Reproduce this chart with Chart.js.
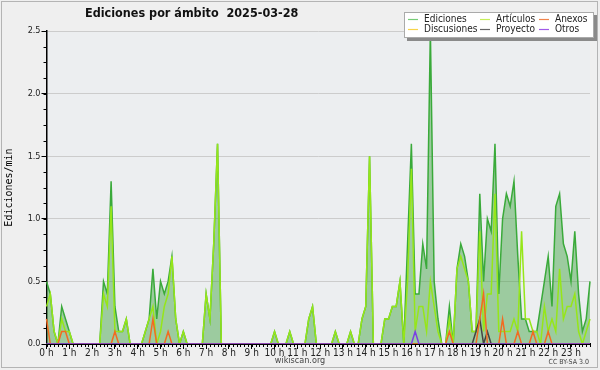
<!DOCTYPE html>
<html>
<head>
<meta charset="utf-8">
<script src="https://cdn.jsdelivr.net/npm/chart.js@4.4.1/dist/chart.umd.min.js"></script>
<style>
  html, body { margin: 0; padding: 0; background: #efefef; }
  canvas { display: block; }
</style>
</head>
<body>
<canvas id="chart" width="600" height="370"></canvas>
<script>
// edits per minute, one value per 10 minutes (6 per row = one hour, 0 h .. 23 h)
const ediciones = [
  0.5, 0.4, 0.1, 0, 0.3, 0.2,
  0.1, 0, 0, 0, 0, 0,
  0, 0, 0, 0.5, 0.4, 1.3,
  0.3, 0.1, 0.1, 0.2, 0, 0,
  0, 0, 0.1, 0.2, 0.6, 0.2,
  0.5, 0.4, 0.5, 0.7, 0.2, 0,
  0.1, 0, 0, 0, 0, 0,
  0.4, 0.2, 0.8, 1.6, 0, 0,
  0, 0, 0, 0, 0, 0,
  0, 0, 0, 0, 0, 0,
  0.1, 0, 0, 0, 0.1, 0,
  0, 0, 0, 0.2, 0.3, 0,
  0, 0, 0, 0, 0.1, 0,
  0, 0, 0.1, 0, 0, 0.2,
  0.3, 1.5, 0, 0, 0, 0.2,
  0.2, 0.3, 0.3, 0.5, 0, 0.8,
  1.6, 0.4, 0.4, 0.8, 0.6, 2.5,
  0.5, 0.2, 0, 0, 0.3, 0,
  0.6, 0.8, 0.7, 0.5, 0.1, 0.1,
  1.2, 0.5, 1.0, 0.9, 1.6, 0.4,
  1.0, 1.2, 1.1, 1.3, 0.7, 0.2,
  0.2, 0.1, 0.1, 0.1, 0.3, 0.5,
  0.7, 0.3, 1.1, 1.2, 0.8, 0.7,
  0.5, 0.9, 0.4, 0.1, 0.2, 0.5
];
const articulos = [
  0.3, 0.4, 0.1, 0, 0.2, 0.1,
  0.1, 0, 0, 0, 0, 0,
  0, 0, 0, 0.4, 0.3, 1.1,
  0.1, 0.1, 0.1, 0.2, 0, 0,
  0, 0, 0.1, 0.2, 0.3, 0,
  0.1, 0.3, 0.4, 0.7, 0.2, 0,
  0.1, 0, 0, 0, 0, 0,
  0.4, 0.2, 0.8, 1.6, 0, 0,
  0, 0, 0, 0, 0, 0,
  0, 0, 0, 0, 0, 0,
  0.1, 0, 0, 0, 0.1, 0,
  0, 0, 0, 0.2, 0.3, 0,
  0, 0, 0, 0, 0.1, 0,
  0, 0, 0.1, 0, 0, 0.2,
  0.3, 1.5, 0, 0, 0, 0.2,
  0.2, 0.3, 0.3, 0.5, 0, 0.5,
  1.4, 0.1, 0.3, 0.3, 0.1, 0.5,
  0.3, 0.1, 0, 0, 0.2, 0,
  0.6, 0.7, 0.6, 0.5, 0.1, 0.1,
  0.9, 0.1, 0.4, 0.4, 1.2, 0.1,
  0.1, 0.1, 0.1, 0.2, 0.1, 0.9,
  0.2, 0.2, 0.1, 0.1, 0, 0.3,
  0.1, 0.2, 0.1, 0.6, 0.2, 0.3,
  0.3, 0.4, 0.1, 0, 0.1, 0.2
];
const anexos = [
  0.2, 0, 0, 0, 0.1, 0.1,
  0, 0, 0, 0, 0, 0,
  0, 0, 0, 0, 0, 0,
  0.1, 0, 0, 0, 0, 0,
  0, 0, 0, 0, 0.2, 0,
  0, 0, 0.1, 0, 0, 0,
  0, 0, 0, 0, 0, 0,
  0, 0, 0, 0, 0, 0,
  0, 0, 0, 0, 0, 0,
  0, 0, 0, 0, 0, 0,
  0, 0, 0, 0, 0, 0,
  0, 0, 0, 0, 0, 0,
  0, 0, 0, 0, 0, 0,
  0, 0, 0, 0, 0, 0,
  0, 0, 0, 0, 0, 0,
  0, 0, 0, 0, 0, 0,
  0, 0, 0, 0, 0, 0,
  0, 0, 0, 0, 0.1, 0,
  0, 0, 0, 0, 0, 0,
  0.2, 0.4, 0, 0, 0, 0,
  0.2, 0, 0, 0, 0.1, 0,
  0, 0, 0.1, 0, 0, 0,
  0.1, 0, 0, 0, 0, 0,
  0, 0, 0, 0, 0, 0
];
const discusiones = new Array(144).fill(0);
const proyecto = [
  0, 0, 0, 0, 0, 0,  0, 0, 0, 0, 0, 0,  0, 0, 0, 0, 0, 0,  0, 0, 0, 0, 0, 0,
  0, 0, 0, 0, 0, 0,  0, 0, 0, 0, 0, 0,  0, 0, 0, 0, 0, 0,  0, 0, 0, 0, 0, 0,
  0, 0, 0, 0, 0, 0,  0, 0, 0, 0, 0, 0,  0, 0, 0, 0, 0, 0,  0, 0, 0, 0, 0, 0,
  0, 0, 0, 0, 0, 0,  0, 0, 0, 0, 0, 0,  0, 0, 0, 0, 0, 0,  0, 0, 0, 0, 0, 0,
  0, 0, 0, 0, 0, 0,  0, 0, 0, 0, 0, 0,  0, 0, 0, 0, 0, 0.1,
  0.2, 0, 0.1, 0, 0, 0,
  0, 0, 0, 0, 0, 0,  0, 0, 0, 0, 0, 0,  0, 0, 0, 0, 0, 0,  0, 0, 0, 0, 0, 0
];
const otros = [
  0, 0, 0, 0, 0, 0,  0, 0, 0, 0, 0, 0,  0, 0, 0, 0, 0, 0,  0, 0, 0, 0, 0, 0,
  0, 0, 0, 0, 0, 0,  0, 0, 0, 0, 0, 0,  0, 0, 0, 0, 0, 0,  0, 0, 0, 0, 0, 0,
  0, 0, 0, 0, 0, 0,  0, 0, 0, 0, 0, 0,  0, 0, 0, 0, 0, 0,  0, 0, 0, 0, 0, 0,
  0, 0, 0, 0, 0, 0,  0, 0, 0, 0, 0, 0,  0, 0, 0, 0, 0, 0,  0, 0, 0, 0, 0, 0,
  0, 0.1, 0, 0, 0, 0,
  0, 0, 0, 0, 0, 0,  0, 0, 0, 0, 0, 0,  0, 0, 0, 0, 0, 0,
  0, 0, 0, 0, 0, 0,  0, 0, 0, 0, 0, 0,  0, 0, 0, 0, 0, 0,  0, 0, 0, 0, 0, 0
];

const slotsPerHour = 6;
const hourTicks = [0, 1, 2, 3, 4, 5, 6, 7, 8, 9, 10, 11, 12, 13, 14, 15, 16, 17, 18, 19, 20, 21, 22, 23];
const yTicks = [0, 0.5, 1.0, 1.5, 2.0, 2.5];

const seriesNames = ['Ediciones', 'Artículos', 'Anexos', 'Discusiones', 'Proyecto', 'Otros'];
const seriesValues = [ediciones, articulos, anexos, discusiones, proyecto, otros];
const lineColors = ['#3aaa3a', '#96e619', '#f26a21', '#f5c400', '#444444', '#7b3fe4'];
const legendColors = ['#77cc77', '#c6ee5a', '#f0844c', '#f7d44a', '#666666', '#a05ae8'];
const drawOrder = [10, 5, 1, 4, 2, 0];

const FONT = "'DejaVu Sans Condensed', 'DejaVu Sans', sans-serif";

const datasets = seriesNames.map((name, k) => ({
  label: name,
  data: seriesValues[k].map((v, i) => ({ x: i, y: v })),
  borderColor: lineColors[k],
  backgroundColor: k === 0 ? 'rgba(60,160,60,0.45)' : lineColors[k],
  legendColor: legendColors[k],
  fill: k === 0 ? 'origin' : false,
  borderWidth: 1.5,
  pointRadius: 0,
  tension: 0,
  order: drawOrder[k],
  clip: { left: 2, top: 2, right: 2, bottom: 0 }
}));

const background = {
  id: 'background',
  beforeDraw(chart) {
    const { ctx, chartArea: a } = chart;
    ctx.save();
    ctx.fillStyle = '#efefef';
    ctx.fillRect(0, 0, chart.width, chart.height);
    ctx.fillStyle = '#eceef0';
    ctx.fillRect(a.left, a.top, a.right - a.left, a.bottom - a.top);
    ctx.restore();
  }
};

// small ticks: every 10 minutes on x, every 0.125 on y
const minorTicks = {
  id: 'minorTicks',
  afterDraw(chart) {
    const { ctx, chartArea: a, scales } = chart;
    ctx.save();
    ctx.strokeStyle = '#000';
    ctx.lineWidth = 1;
    ctx.beginPath();
    for (let i = 0; i < ediciones.length; i++) {
      const px = Math.round(scales.x.getPixelForValue(i)) + 0.5;
      ctx.moveTo(px, a.bottom);
      ctx.lineTo(px, a.bottom + 3);
    }
    for (let v = 0; v <= 2.5; v += 0.125) {
      const py = Math.round(scales.y.getPixelForValue(v)) + 0.5;
      ctx.moveTo(a.left - 3, py);
      ctx.lineTo(a.left, py);
    }
    ctx.stroke();
    ctx.restore();
  }
};

const decorations = {
  id: 'decorations',
  afterDraw(chart) {
    const { ctx } = chart;
    ctx.save();
    // title
    ctx.fillStyle = '#111';
    ctx.font = "bold 12.5px " + FONT;
    ctx.textAlign = 'left';
    ctx.textBaseline = 'middle';
    ctx.fillText('Ediciones por ámbito  2025-03-28', 85, 14);

    // legend box with shadow
    const bx = 404, by = 12, bw = 190, bh = 26;
    ctx.fillStyle = '#8a8a8a';
    ctx.fillRect(bx + 3, by + 3, bw, bh);
    ctx.fillStyle = '#fff';
    ctx.fillRect(bx, by, bw, bh);
    ctx.strokeStyle = '#aaa';
    ctx.lineWidth = 1;
    ctx.strokeRect(bx + 0.5, by + 0.5, bw - 1, bh - 1);
    const colX = [408, 480, 539];
    const rowY = [19.5, 29.5];
    ctx.font = "10px " + FONT;
    chart.data.datasets.forEach((ds, k) => {
      const x = colX[k % 3], y = rowY[Math.floor(k / 3)];
      ctx.strokeStyle = ds.legendColor;
      ctx.lineWidth = 1.2;
      ctx.beginPath();
      ctx.moveTo(x, y);
      ctx.lineTo(x + 10, y);
      ctx.stroke();
      ctx.fillStyle = '#222';
      ctx.fillText(ds.label, x + 16, y);
    });

    // footer
    ctx.fillStyle = '#444';
    ctx.textAlign = 'center';
    ctx.font = "9px " + FONT;
    ctx.fillText('wikiscan.org', 300, 361);
    ctx.textAlign = 'right';
    ctx.font = "7px " + FONT;
    ctx.fillText('CC BY-SA 3.0', 589, 362);

    // frame
    ctx.strokeStyle = '#b4b4b4';
    ctx.lineWidth = 1;
    ctx.strokeRect(1.5, 1.5, 596, 366);
    ctx.restore();
  }
};

new Chart(document.getElementById('chart'), {
  type: 'line',
  data: { datasets },
  options: {
    responsive: false,
    animation: false,
    devicePixelRatio: 1,
    layout: { padding: { top: 31, right: 10, left: 0, bottom: 0 } },
    plugins: {
      legend: { display: false },
      title: { display: false },
      tooltip: { enabled: false }
    },
    scales: {
      x: {
        type: 'linear',
        min: 0,
        max: ediciones.length - 1,
        z: 1,
        afterBuildTicks(scale) {
          scale.ticks = hourTicks.map(h => ({ value: h * slotsPerHour }));
        },
        afterFit(scale) { scale.height = 26; },
        ticks: {
          autoSkip: false,
          maxRotation: 0,
          padding: -2,
          color: '#222',
          font: { family: FONT, size: 10 },
          callback: v => (v / slotsPerHour) + ' h'
        },
        grid: { drawOnChartArea: false, tickLength: 5, tickColor: '#000', tickWidth: 1 },
        border: { color: '#000', width: 2 }
      },
      y: {
        min: 0,
        max: 2.5,
        afterBuildTicks(scale) {
          scale.ticks = yTicks.map(v => ({ value: v }));
        },
        afterFit(scale) { scale.width = 46.5; },
        ticks: {
          padding: 1,
          color: '#222',
          font: { family: FONT, size: 9 },
          callback: v => v.toFixed(1)
        },
        grid: { color: '#cccccc', lineWidth: 1, tickLength: 5, tickColor: '#000' },
        border: { color: '#000', width: 1.5 },
        title: {
          display: true,
          text: 'Ediciones/min',
          color: '#000',
          padding: { top: 3, bottom: 0 },
          font: { family: "'DejaVu Sans Mono', monospace", size: 10 }
        }
      }
    }
  },
  plugins: [background, minorTicks, decorations]
});
</script>
</body>
</html>
